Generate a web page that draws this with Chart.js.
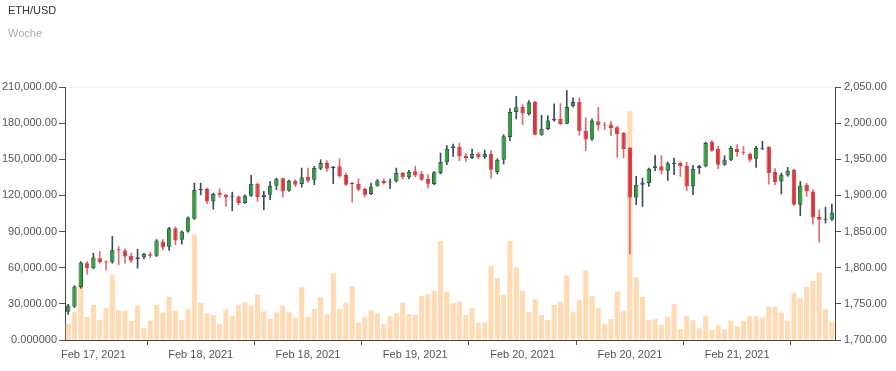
<!DOCTYPE html>
<html><head><meta charset="utf-8">
<script src="https://cdn.jsdelivr.net/npm/chart.js@4/dist/chart.umd.min.js"></script>
<style>
html,body{margin:0;padding:0;background:#fff;}
#wrap{position:relative;width:896px;height:371px;overflow:hidden;}
#title{position:absolute;left:8px;top:4px;font:11px "Liberation Sans",Arial,sans-serif;color:#333;}
#sub{position:absolute;left:8px;top:27px;font:11px "Liberation Sans",Arial,sans-serif;color:#aaa;}
canvas{position:absolute;left:0;top:0;}
</style></head><body>
<div id="wrap"><canvas id="c" width="896" height="371"></canvas><div id="title">ETH/USD</div><div id="sub">Woche</div></div>
<script>
const openP = [1739.2,1746.2,1773.0,1806.2,1799.3,1813.2,1808.5,1807.6,1825.6,1823.8,1816.4,1812.2,1814.1,1818.7,1816.4,1836.3,1828.9,1854.7,1838.6,1850.1,1867.7,1907.4,1908.8,1891.7,
1903.2,1900.9,1898.2,1898.6,1889.4,1899.5,1916.2,1897.7,1900.9,1913.4,1923.6,1906.5,1920.3,1915.7,1925.9,1921.7,1937.0,1944.8,1937.9,1940.2,1928.7,1916.6,1916.2,1908.8,1901.9,
1913.4,1920.3,1918.0,1919.4,1931.0,1925.0,1933.3,1929.6,1922.7,1915.7,1931.0,1945.8,1965.6,1967.5,1955.0,1951.8,1957.8,1952.7,1957.8,1932.4,1949.4,1980.9,2015.5,2022.4,
2012.7,2029.4,1984.1,1992.0,2003.5,2005.8,1999.3,2023.4,2029.4,1989.6,1977.2,2002.6,1997.5,1998.0,1994.3,1986.4,1965.6,1897.2,1914.8,1917.1,1937.9,1940.2,1934.2,1943.4,1944.8,
1941.1,1912.5,1937.9,1940.2,1973.9,1964.2,1942.5,1949.4,1964.2,1960.1,1957.8,1950.8,1964.7,1967.0,1932.4,1919.4,1927.7,1935.6,1887.1,1914.8,1905.6,1870.0,1866.3,1866.3];
const highP = [1749.4,1775.3,1808.5,1808.5,1820.1,1822.4,1809.5,1843.2,1829.3,1826.1,1820.1,1825.6,1820.1,1821.5,1839.0,1839.0,1855.7,1856.6,1851.0,1870.4,1917.1,1917.1,1910.2,1903.2,
1909.3,1901.4,1904.6,1899.5,1900.9,1927.7,1917.1,1905.6,1919.4,1924.0,1924.0,1921.3,1921.7,1937.9,1937.9,1940.2,1949.4,1948.1,1940.2,1950.8,1931.0,1918.0,1923.1,1910.2,1917.1,
1922.2,1923.1,1922.7,1937.9,1932.4,1934.7,1940.2,1933.3,1928.7,1933.3,1958.7,1968.9,1971.2,1972.5,1957.8,1964.2,1959.6,1962.8,1961.9,1950.8,1984.1,2020.1,2037.2,2025.7,
2031.2,2030.3,2010.9,2010.4,2026.6,2027.1,2045.1,2034.9,2034.9,2007.2,2005.8,2022.0,2001.2,2002.6,1995.7,1987.3,1966.5,1926.4,1924.0,1937.9,1955.5,1955.0,1946.2,1951.8,1946.2,
1946.2,1941.6,1941.6,1973.9,1975.8,1967.9,1955.0,1967.9,1970.2,1967.9,1958.7,1967.9,1974.9,1967.5,1937.0,1931.0,1938.8,1936.5,1919.4,1917.1,1907.9,1880.1,1883.8,1888.0];
const lowP = [1735.5,1744.8,1771.6,1791.0,1798.4,1806.2,1797.0,1806.2,1803.9,1806.2,1807.2,1799.3,1812.2,1814.1,1815.5,1824.7,1823.8,1831.6,1832.6,1849.2,1866.8,1900.9,1888.5,1881.1,
1897.2,1884.8,1878.8,1887.1,1888.9,1898.6,1891.7,1880.1,1894.0,1907.9,1897.7,1905.6,1912.5,1911.6,1918.0,1914.8,1935.6,1933.3,1916.2,1925.0,1913.9,1890.8,1906.5,1897.7,1900.9,
1912.5,1915.7,1909.3,1918.5,1922.7,1922.7,1925.4,1920.8,1910.2,1914.8,1929.6,1942.5,1954.1,1948.1,1947.1,1950.8,1950.8,1950.8,1924.0,1929.6,1943.4,1975.8,2005.8,1998.0,
2010.9,1983.6,1983.2,1991.0,2002.6,1998.0,1998.9,2022.4,1983.2,1961.9,1976.2,1990.1,1991.0,1982.7,1952.7,1951.8,1818.7,1887.1,1884.8,1912.5,1934.2,1929.6,1920.8,1928.7,1926.4,
1906.5,1900.9,1930.0,1939.3,1961.0,1937.0,1941.6,1948.1,1954.1,1956.4,1946.2,1938.8,1963.3,1915.7,1914.8,1901.9,1926.4,1886.2,1871.8,1898.6,1860.3,1835.3,1861.7,1865.5];
const closeP = [1747.6,1773.9,1807.2,1799.3,1814.1,1807.6,1807.2,1824.7,1823.8,1815.5,1809.5,1814.5,1819.2,1816.4,1837.6,1827.9,1854.7,1837.6,1850.1,1869.5,1907.4,1908.8,1891.7,1901.9,
1900.9,1897.2,1899.5,1889.4,1900.0,1916.2,1897.7,1900.9,1913.4,1923.1,1905.6,1920.3,1914.8,1925.0,1920.3,1937.9,1944.8,1937.0,1939.3,1926.4,1914.8,1915.7,1907.9,1900.9,1912.5,
1920.8,1917.1,1919.4,1931.0,1925.0,1932.8,1927.7,1921.7,1916.2,1931.9,1946.2,1964.7,1967.9,1954.1,1951.8,1957.3,1952.7,1957.3,1935.6,1949.4,1981.8,2015.5,2022.0,2013.2,
2028.9,1984.1,1992.4,2003.5,2005.8,1998.9,2022.4,2029.4,1988.7,1977.2,2003.5,1997.0,1996.6,1993.3,1985.0,1964.2,1897.2,1914.8,1918.0,1937.0,1940.2,1934.2,1944.4,1944.4,1940.2,
1912.5,1937.0,1941.1,1972.5,1961.9,1942.5,1949.4,1965.6,1960.1,1959.2,1949.4,1965.6,1966.1,1931.0,1918.5,1928.7,1934.2,1887.1,1913.9,1905.6,1869.5,1866.3,1867.7,1876.5];
const volume = [13600,23000,47100,19200,29100,16700,26400,53800,24700,24100,15800,28600,9700,16100,29100,22800,35800,24100,16700,25800,87600,30800,22200,20800,
13100,25500,20000,29400,31300,28600,37700,23900,17500,22800,28600,23000,18300,43800,19400,25800,35500,21100,55200,25800,31100,44700,14400,19200,25000,
22200,13100,19700,22200,31100,21600,20800,36600,38000,40800,82100,39900,30500,31900,20800,26400,14400,14700,61600,51300,37400,82100,60200,40800,
23000,33800,20800,16700,29100,31900,53500,23000,33000,58000,36300,26400,13600,17500,40200,24100,189900,52100,35800,16700,17500,12500,19400,30000,9200,
20000,16400,9700,20000,8600,12200,8900,16100,11400,15800,19700,19700,18600,27700,27700,22800,16100,39400,34400,44100,49100,56000,25500,14700];
const tickLabels = ["Feb 17, 2021","Feb 18, 2021","Feb 18, 2021","Feb 19, 2021","Feb 20, 2021","Feb 20, 2021","Feb 21, 2021"];
const tickLabelIndex = [4,21,38,55,72,89,106];
const tickMarkIndex = [13,30,47,64,81,98,115];
const categories = openP.map((_, i) => String(i));

const UP_FILL = '#22a822', UP_LINE = '#3a4d5c', DN_FILL = '#d4373f', DN_WICK = '#dd6b72';
const isUp = openP.map((o, i) => closeP[i] >= o);
const FONT = {family: '"Liberation Sans", Arial, sans-serif', size: 11};
const fmt2 = v => Number(v).toLocaleString('en-US', {minimumFractionDigits: 2, maximumFractionDigits: 2});

new Chart(document.getElementById('c'), {
  type: 'bar',
  data: {
    labels: categories,
    datasets: [
      {
        label: 'body', yAxisID: 'yp', order: 0, grouped: false,
        data: openP.map((o, i) => [o, closeP[i]]),
        backgroundColor: isUp.map(u => u ? UP_FILL : DN_FILL),
        borderColor: isUp.map(u => u ? UP_LINE : DN_FILL),
        borderWidth: 1, borderSkipped: false, minBarLength: 1,
        barPercentage: 0.7, categoryPercentage: 1
      },
      {
        label: 'wick', yAxisID: 'yp', order: 1, grouped: false,
        data: lowP.map((l, i) => [l, highP[i]]),
        backgroundColor: isUp.map(u => u ? UP_LINE : DN_WICK),
        barThickness: 1, borderWidth: 0
      },
      {
        label: 'volume', yAxisID: 'yv', order: 2, grouped: false,
        data: volume,
        backgroundColor: 'rgba(255,204,150,0.72)',
        borderWidth: 0, barPercentage: 0.8, categoryPercentage: 1
      }
    ]
  },
  options: {
    responsive: false, animation: false, devicePixelRatio: 1,
    layout: {padding: {top: 87, left: 0, right: 0, bottom: 0}},
    plugins: {legend: {display: false}, tooltip: {enabled: false}, title: {display: false}},
    scales: {
      x: {
        type: 'category', offset: true,
        grid: {display: true, drawOnChartArea: false, offset: true, tickLength: 5,
               tickColor: ctx => tickMarkIndex.includes(ctx.index) ? '#555' : 'rgba(0,0,0,0)'},
        border: {display: true, color: '#444'},
        ticks: {autoSkip: false, maxRotation: 0, minRotation: 0, color: '#555', font: FONT, padding: 3,
                callback: (v, i) => { const k = tickLabelIndex.indexOf(i); return k >= 0 ? tickLabels[k] : ''; }},
        afterFit: s => { s.height = 31; }
      },
      yv: {
        position: 'left', min: 0, max: 210000,
        grid: {display: true, drawOnChartArea: true, tickLength: 6, tickColor: '#555',
               color: ctx => (ctx.tick && ctx.tick.value === 210000) ? '#fbeee5' : 'rgba(0,0,0,0)'},
        border: {display: true, color: '#444'},
        ticks: {stepSize: 30000, color: '#555', font: FONT, padding: 2,
                callback: v => v === 0 ? '0.000000' : fmt2(v)},
        afterFit: s => { s.width = 65; }
      },
      yp: {
        position: 'right', min: 1700, max: 2050,
        grid: {display: true, drawOnChartArea: false, tickLength: 6, tickColor: '#555'},
        border: {display: true, color: '#444'},
        ticks: {stepSize: 50, color: '#555', font: FONT, padding: 3, callback: v => fmt2(v)},
        afterFit: s => { s.width = 61; }
      }
    }
  }
});
</script>
</body></html>
